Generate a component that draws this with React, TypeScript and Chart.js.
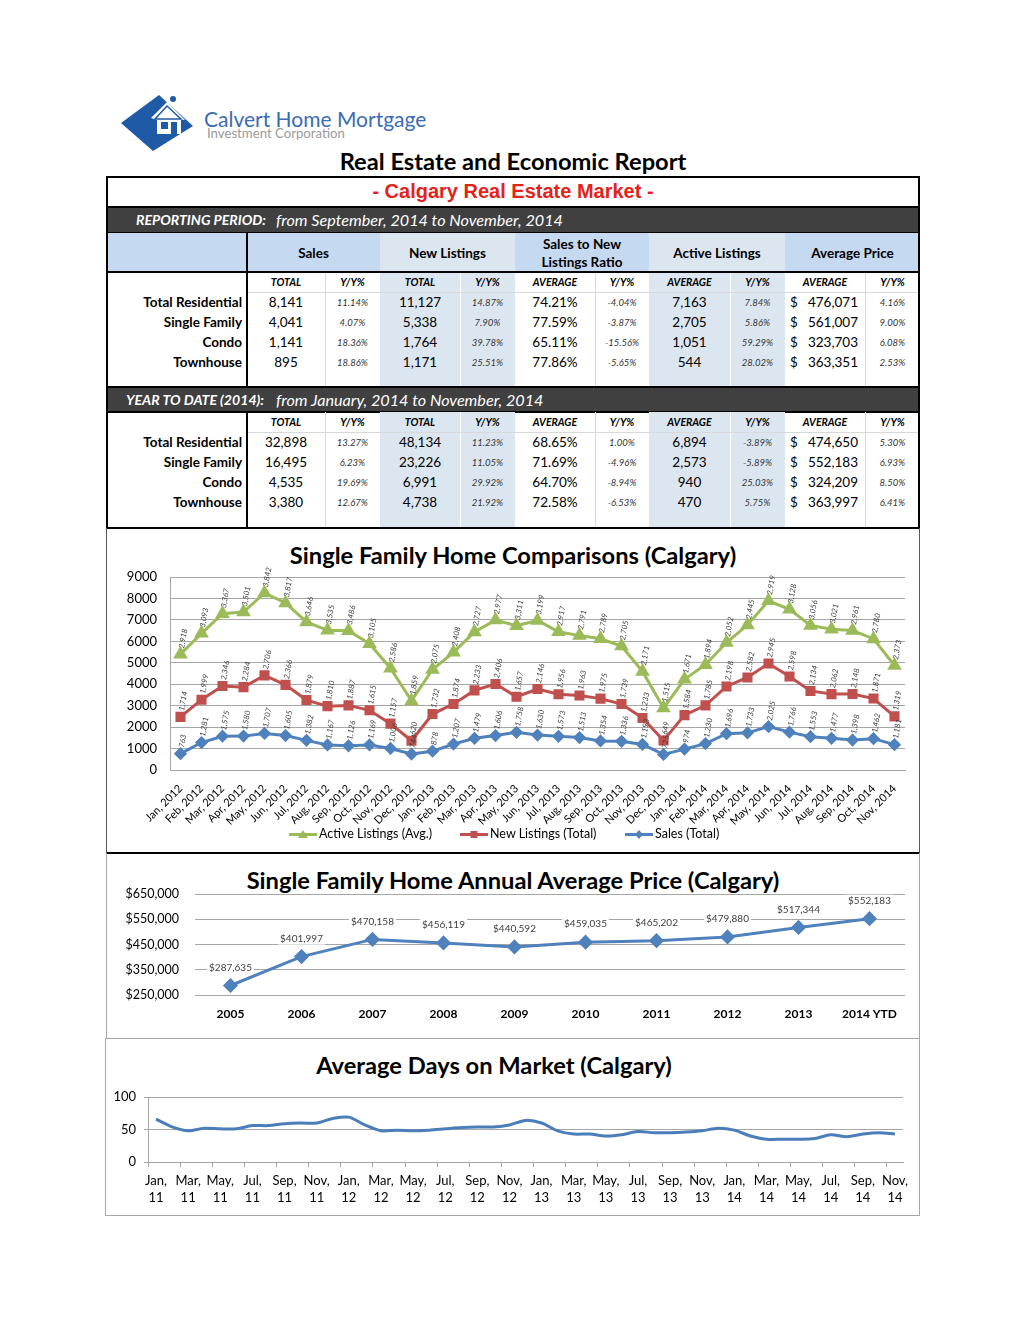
import React, { useEffect, useRef } from "react";
import { Chart, registerables } from "chart.js";
Chart.register(...registerables);

const FONT = "Lato, 'Noto Sans', sans-serif";
const BLUE = "#4f81bd";
const RED = "#c0504d";
const GREEN = "#9bbb59";
const GRID = "#a6a6a6";

// ---------- Chart 1: Single Family Home Comparisons ----------
const compMonths = [
  "Jan, 2012", "Feb, 2012", "Mar, 2012", "Apr, 2012", "May, 2012", "Jun, 2012",
  "Jul, 2012", "Aug, 2012", "Sep, 2012", "Oct, 2012", "Nov, 2012", "Dec, 2012",
  "Jan, 2013", "Feb, 2013", "Mar, 2013", "Apr, 2013", "May, 2013", "Jun, 2013",
  "Jul, 2013", "Aug, 2013", "Sep, 2013", "Oct, 2013", "Nov, 2013", "Dec, 2013",
  "Jan, 2014", "Feb, 2014", "Mar, 2014", "Apr, 2014", "May, 2014", "Jun, 2014",
  "Jul, 2014", "Aug, 2014", "Sep, 2014", "Oct, 2014", "Nov, 2014",
];
const activeListings = [
  2918, 3093, 3367, 3501, 3842, 3817, 3646, 3535, 3486, 3105, 2586, 1859,
  2075, 2408, 2727, 2977, 3311, 3199, 2917, 2791, 2789, 2705, 2171, 1515,
  1671, 1894, 2052, 2445, 2919, 3128, 3056, 3021, 2961, 2780, 2373,
];
const newListings = [
  1714, 1999, 2346, 2284, 2706, 2366, 1879, 1810, 1887, 1615, 1157, 620,
  1732, 1874, 2233, 2406, 1657, 2146, 1956, 1963, 1975, 1739, 1233, 649,
  1584, 1785, 2198, 2582, 2945, 2598, 2134, 2062, 2148, 1871, 1319,
];
const salesTotal = [
  763, 1281, 1575, 1580, 1707, 1605, 1382, 1167, 1126, 1169, 1006, 744,
  878, 1207, 1479, 1606, 1758, 1630, 1573, 1513, 1354, 1336, 1193, 725,
  974, 1230, 1696, 1733, 2025, 1766, 1553, 1477, 1398, 1462, 1181,
];

// ---------- Chart 2: Annual Average Price ----------
const years = ["2005", "2006", "2007", "2008", "2009", "2010", "2011", "2012", "2013", "2014 YTD"];
const avgPrice = [287635, 401997, 470158, 456119, 440592, 459035, 465202, 479880, 517344, 552183];

// ---------- Chart 3: Average Days on Market ----------
const domMonths = [
  "Jan, 11", "Feb, 11", "Mar, 11", "Apr, 11", "May, 11", "Jun, 11", "Jul, 11", "Aug, 11", "Sep, 11", "Oct, 11", "Nov, 11", "Dec, 11",
  "Jan, 12", "Feb, 12", "Mar, 12", "Apr, 12", "May, 12", "Jun, 12", "Jul, 12", "Aug, 12", "Sep, 12", "Oct, 12", "Nov, 12", "Dec, 12",
  "Jan, 13", "Feb, 13", "Mar, 13", "Apr, 13", "May, 13", "Jun, 13", "Jul, 13", "Aug, 13", "Sep, 13", "Oct, 13", "Nov, 13", "Dec, 13",
  "Jan, 14", "Feb, 14", "Mar, 14", "Apr, 14", "May, 14", "Jun, 14", "Jul, 14", "Aug, 14", "Sep, 14", "Oct, 14", "Nov, 14",
];
const daysOnMarket = [
  66, 54, 48, 52, 51, 51, 56, 56, 59, 60, 60, 67,
  69, 57, 48, 49, 48, 49, 51, 53, 54, 54, 57, 64,
  60, 48, 43, 43, 40, 42, 47, 45, 45, 46, 48, 52,
  49, 40, 35, 35, 35, 36, 42, 39, 43, 45, 43,
];

// ---------- Table ----------
const rowNames = ["Total Residential", "Single Family", "Condo", "Townhouse"];
const subHeaders = ["TOTAL", "Y/Y%", "TOTAL", "Y/Y%", "AVERAGE", "Y/Y%", "AVERAGE", "Y/Y%", "AVERAGE", "Y/Y%"];
const periodRows = [
  ["8,141", "11.14%", "11,127", "14.87%", "74.21%", "-4.04%", "7,163", "7.84%", "476,071", "4.16%"],
  ["4,041", "4.07%", "5,338", "7.90%", "77.59%", "-3.87%", "2,705", "5.86%", "561,007", "9.00%"],
  ["1,141", "18.36%", "1,764", "39.78%", "65.11%", "-15.56%", "1,051", "59.29%", "323,703", "6.08%"],
  ["895", "18.86%", "1,171", "25.51%", "77.86%", "-5.65%", "544", "28.02%", "363,351", "2.53%"],
];
const ytdRows = [
  ["32,898", "13.27%", "48,134", "11.23%", "68.65%", "1.00%", "6,894", "-3.89%", "474,650", "5.30%"],
  ["16,495", "6.23%", "23,226", "11.05%", "71.69%", "-4.96%", "2,573", "-5.89%", "552,183", "6.93%"],
  ["4,535", "19.69%", "6,991", "29.92%", "64.70%", "-8.94%", "940", "25.03%", "324,209", "8.50%"],
  ["3,380", "12.67%", "4,738", "21.92%", "72.58%", "-6.53%", "470", "5.75%", "363,997", "6.41%"],
];

const E = [106, 247, 325, 380, 460, 515, 595, 649, 730, 785, 865, 920];

function ChartCanvas({ left, top, width, height, make }: any) {
  const ref = useRef<HTMLCanvasElement>(null);
  useEffect(() => {
    const c = new Chart(ref.current as HTMLCanvasElement, make());
    return () => c.destroy();
  }, []);
  return (
    <div style={{ position: "absolute", left, top, width, height }}>
      <canvas ref={ref} width={width} height={height} style={{ width, height, display: "block" }} />
    </div>
  );
}

const stackLabels = {
  id: "stackLabels",
  afterDatasetsDraw(chart: any) {
    const ctx = chart.ctx;
    ctx.save();
    ctx.font = `italic 7.8px ${FONT}`;
    ctx.fillStyle = "#404040";
    ctx.textAlign = "left";
    ctx.textBaseline = "middle";
    chart.data.datasets.forEach((ds: any, di: number) => {
      const meta = chart.getDatasetMeta(di);
      meta.data.forEach((pt: any, i: number) => {
        const v = ds.data[i] as number;
        ctx.save();
        ctx.translate(pt.x + 1, pt.y - 6);
        ctx.rotate((-80 * Math.PI) / 180);
        ctx.fillText(v.toLocaleString("en-US"), 0, 0);
        ctx.restore();
      });
    });
    ctx.restore();
  },
};

const priceLabels = {
  id: "priceLabels",
  afterDatasetsDraw(chart: any) {
    const ctx = chart.ctx;
    ctx.save();
    ctx.font = `10px ${FONT}`;
    ctx.textAlign = "center";
    ctx.textBaseline = "middle";
    const ds = chart.data.datasets[0];
    const meta = chart.getDatasetMeta(0);
    meta.data.forEach((pt: any, i: number) => {
      const t = "$" + (ds.data[i] as number).toLocaleString("en-US");
      const w = ctx.measureText(t).width;
      const y = pt.y - 18;
      ctx.fillStyle = "#ffffff";
      ctx.fillRect(pt.x - w / 2 - 2, y - 6, w + 4, 12);
      ctx.fillStyle = "#404040";
      ctx.fillText(t, pt.x, y);
    });
    ctx.restore();
  },
};

const makeComp = () => ({
  type: "line",
  data: {
    labels: compMonths,
    datasets: [
      { label: "Sales (Total)", data: salesTotal, borderColor: BLUE, backgroundColor: BLUE, pointStyle: "rectRot", pointRadius: 4.5, borderWidth: 3, tension: 0 },
      { label: "New Listings (Total)", data: newListings, borderColor: RED, backgroundColor: RED, pointStyle: "rect", pointRadius: 5, borderWidth: 3, tension: 0 },
      { label: "Active Listings (Avg.)", data: activeListings, borderColor: GREEN, backgroundColor: GREEN, pointStyle: "triangle", pointRadius: 5.5, borderWidth: 3, tension: 0 },
    ],
  },
  options: {
    animation: false,
    responsive: false,
    layout: { padding: { top: 48, right: 14, left: 0, bottom: 0 } },
    plugins: { legend: { display: false }, tooltip: { enabled: false }, title: { display: false } },
    scales: {
      x: {
        offset: true,
        grid: { display: false },
        border: { display: true, color: GRID },
        ticks: { autoSkip: false, maxRotation: 45, minRotation: 45, font: { family: FONT, size: 11 }, color: "#000", padding: 4 },
        afterFit: (s: any) => { s.height = 59; },
      },
      y: {
        stacked: true,
        min: 0,
        max: 9000,
        ticks: { stepSize: 1000, callback: (v: any) => String(v), font: { family: FONT, size: 13 }, color: "#000", padding: 13 },
        grid: { color: GRID, drawTicks: false },
        border: { display: true, color: GRID },
        afterFit: (s: any) => { s.width = 63; },
      },
    },
  },
  plugins: [stackLabels],
});

const makePrice = () => ({
  type: "line",
  data: {
    labels: years,
    datasets: [{ data: avgPrice, borderColor: BLUE, backgroundColor: BLUE, borderWidth: 3, pointStyle: "rectRot", pointRadius: 5.5, tension: 0 }],
  },
  options: {
    animation: false,
    responsive: false,
    layout: { padding: { top: 40, right: 14, left: 0, bottom: 0 } },
    plugins: { legend: { display: false }, tooltip: { enabled: false } },
    scales: {
      x: {
        offset: true,
        grid: { display: false },
        border: { display: false },
        ticks: { font: { family: FONT, size: 12, weight: "bold" }, color: "#000", padding: 4 },
        afterFit: (s: any) => { s.height = 42; },
      },
      y: {
        min: 250000,
        max: 650000,
        ticks: { stepSize: 100000, callback: (v: any) => "$" + Number(v).toLocaleString("en-US"), font: { family: FONT, size: 12.5 }, color: "#000", padding: 16 },
        grid: { color: GRID, drawTicks: false },
        border: { display: false },
        afterFit: (s: any) => { s.width = 88; },
      },
    },
  },
  plugins: [priceLabels],
});

const makeDom = () => ({
  type: "line",
  data: {
    labels: domMonths,
    datasets: [{ data: daysOnMarket, borderColor: "#4a7ebb", borderWidth: 3, pointRadius: 0, tension: 0.3 }],
  },
  options: {
    animation: false,
    responsive: false,
    layout: { padding: { top: 58, right: 16, left: 0, bottom: 0 } },
    plugins: { legend: { display: false }, tooltip: { enabled: false } },
    scales: {
      x: {
        offset: true,
        grid: {
          display: true, drawOnChartArea: false, drawTicks: true, tickLength: 5, offset: true,
          color: (c: any) => (c.index % 2 === 0 ? GRID : "rgba(0,0,0,0)"),
        },
        border: { display: true, color: GRID },
        ticks: {
          autoSkip: false, maxRotation: 0, minRotation: 0,
          callback: (_v: any, i: number) => (i % 2 === 0 ? domMonths[i].split(" ") : ""),
          font: { family: FONT, size: 13, lineHeight: 1.3 }, color: "#000", padding: 5,
        },
        afterFit: (s: any) => { s.height = 52; },
      },
      y: {
        min: 0,
        max: 100,
        ticks: { stepSize: 50, font: { family: FONT, size: 13 }, color: "#000", padding: 8 },
        grid: { color: GRID, tickLength: 4 },
        border: { display: true, color: GRID },
        afterFit: (s: any) => { s.width = 42; },
      },
    },
  },
});

function Abs({ x, y, w, h, style, children }: any) {
  return <div style={{ position: "absolute", left: x, top: y, width: w, height: h, boxSizing: "border-box", ...style }}>{children}</div>;
}

function Cell({ x0, x1, y0, y1, style, children }: any) {
  return (
    <Abs x={x0} y={y0} w={x1 - x0} h={y1 - y0}
      style={{ display: "flex", alignItems: "center", justifyContent: "center", whiteSpace: "nowrap", ...style }}>
      {children}
    </Abs>
  );
}

function Title({ y, text, size, cx }: any) {
  const c = cx ?? 513;
  return (
    <Abs x={c - 407} y={y - 15} w={814} h={30}
      style={{ textAlign: "center", lineHeight: "30px", fontWeight: 700, fontSize: size, fontFamily: FONT, color: "#000", whiteSpace: "nowrap" }}>
      {text}
    </Abs>
  );
}

function Section({ top, rows, bar }: any) {
  const els: any[] = [];
  const end = top + 20 + 4 * 20 + 16;
  els.push(<Abs key="b1" x={380} y={top} w={135} h={end - top} style={{ background: "#dce6f1" }} />);
  els.push(<Abs key="b2" x={649} y={top} w={136} h={end - top} style={{ background: "#dce6f1" }} />);
  [325, 595, 865].forEach((x, i) => els.push(<Abs key={"s" + i} x={x} y={top} w={1} h={end - top} style={{ background: "#d9d9d9" }} />));
  [460, 730].forEach((x, i) => els.push(<Abs key={"w" + i} x={x} y={top} w={1} h={end - top} style={{ background: "#ffffff" }} />));
  els.push(<Abs key="hl" x={247} y={top + 20} w={673} h={1} style={{ background: "#d9d9d9" }} />);
  els.push(<Abs key="vl" x={246} y={top} w={2} h={end - top} style={{ background: "#000" }} />);
  subHeaders.forEach((t, j) =>
    els.push(
      <Cell key={"h" + j} x0={E[j + 1]} x1={E[j + 2]} y0={top} y1={top + 20}
        style={{ fontFamily: FONT, fontStyle: "italic", fontWeight: 700, fontSize: 10.5, color: "#000" }}>
        {t}
      </Cell>
    )
  );
  rows.forEach((r: string[], i: number) => {
    const y0 = top + 20 + i * 20;
    els.push(
      <Cell key={"n" + i} x0={106} x1={242} y0={y0} y1={y0 + 20}
        style={{ justifyContent: "flex-end", fontFamily: FONT, fontWeight: 700, fontSize: 13.5, color: "#000" }}>
        {rowNames[i]}
      </Cell>
    );
    r.forEach((v, j) => {
      const isPct = j % 2 === 1;
      if (j === 8) {
        els.push(
          <Cell key={"d" + i + "-" + j} x0={790} x1={858} y0={y0} y1={y0 + 20}
            style={{ justifyContent: "space-between", fontFamily: FONT, fontSize: 13.5, color: "#000" }}>
            <span>$</span><span>{v}</span>
          </Cell>
        );
      } else {
        els.push(
          <Cell key={"d" + i + "-" + j} x0={E[j + 1]} x1={E[j + 2]} y0={y0} y1={y0 + 20}
            style={{ fontFamily: FONT, fontSize: isPct ? 9.5 : 13.5, fontStyle: isPct ? "italic" : "normal", color: isPct ? "#333" : "#000" }}>
            {v}
          </Cell>
        );
      }
    });
  });
  return <>{els}</>;
}

function DarkBar({ y, h, label, text, labelX }: any) {
  return (
    <>
      <Abs x={106} y={y} w={814} h={h} style={{ background: "#404040", borderTop: "2px solid #000", borderBottom: "2px solid #000" }} />
      <Abs x={labelX} y={y} w={170} h={h} style={{ color: "#fff", fontFamily: FONT, fontStyle: "italic", fontWeight: 700, fontSize: 14.1, lineHeight: h + "px", whiteSpace: "nowrap" }}>{label}</Abs>
      <Abs x={276} y={y} w={400} h={h} style={{ color: "#fff", fontFamily: FONT, fontStyle: "italic", fontSize: 16.2, lineHeight: h + "px", whiteSpace: "nowrap" }}>{text}</Abs>
    </>
  );
}

function LegendItem({ x, color, marker, text }: any) {
  let m: any = null;
  if (marker === "triangle") m = <polygon points="14,1 19,9 9,9" fill={color} />;
  if (marker === "rect") m = <rect x={10.5} y={2} width={7} height={7} fill={color} />;
  if (marker === "diamond") m = <polygon points="14,1 18,5.5 14,10 10,5.5" fill={color} />;
  return (
    <>
      <svg style={{ position: "absolute", left: x - 30, top: 829 }} width={28} height={11}>
        <line x1={0} y1={5.5} x2={28} y2={5.5} stroke={color} strokeWidth={3} />
        {m}
      </svg>
      <Abs x={x} y={826} w={160} h={16} style={{ fontFamily: FONT, fontSize: 12.5, lineHeight: "16px", color: "#000", whiteSpace: "nowrap" }}>{text}</Abs>
    </>
  );
}

export default function App() {
  return (
    <div style={{ position: "absolute", left: 0, top: 0, width: 1024, height: 1326, background: "#fff", fontFamily: FONT, overflow: "hidden" }}>
      {/* Logo */}
      <svg style={{ position: "absolute", left: 115, top: 90 }} width={90} height={65}>
        <polygon points="6,33 44,5 78,36 38,61" fill="#1f5aa6" />
        <polygon points="36,28 52,12 70,30 66,30 66,44 42,44 42,30" fill="#ffffff" />
        <rect x={46} y={32} width={7} height={7} fill="#1f5aa6" />
        <rect x={56} y={32} width={6} height={12} fill="#1f5aa6" />
        <polygon points="40,29 52,16 66,29" fill="none" stroke="#1f5aa6" strokeWidth={1.5} />
        <circle cx={58} cy={9} r={3} fill="#1f5aa6" />
      </svg>
      <Abs x={204} y={106} w={260} h={26} style={{ fontFamily: FONT, fontSize: 21, color: "#3b6cb4", lineHeight: "26px", whiteSpace: "nowrap" }}>Calvert Home Mortgage</Abs>
      <Abs x={207} y={126} w={200} h={14} style={{ fontFamily: FONT, fontSize: 13.2, color: "#9a9a9a", lineHeight: "14px", whiteSpace: "nowrap" }}>Investment Corporation</Abs>

      <Abs x={106} y={146} w={814} h={30} style={{ textAlign: "center", lineHeight: "30px", fontWeight: 700, fontSize: 23.7, fontFamily: FONT, color: "#000", whiteSpace: "nowrap" }}>
        Real Estate and Economic Report
      </Abs>

      {/* Table */}
      <Cell x0={106} x1={920} y0={176} y1={207}
        style={{ fontFamily: "'Liberation Sans', Arial, sans-serif", fontWeight: 700, fontSize: 20, color: "#e2231a" }}>
        - Calgary Real Estate Market -
      </Cell>
      <DarkBar y={206} h={28} label="REPORTING PERIOD:" text="from September, 2014 to November, 2014" labelX={136} />
      <Abs x={106} y={233} w={274} h={39} style={{ background: "#c5d9f1" }} />
      <Abs x={380} y={233} w={135} h={39} style={{ background: "#dce6f1" }} />
      <Abs x={515} y={233} w={134} h={39} style={{ background: "#c5d9f1" }} />
      <Abs x={649} y={233} w={136} h={39} style={{ background: "#dce6f1" }} />
      <Abs x={785} y={233} w={135} h={39} style={{ background: "#c5d9f1" }} />
      {[["Sales", 247, 380], ["New Listings", 380, 515], ["Sales to New|Listings Ratio", 515, 649], ["Active Listings", 649, 785], ["Average Price", 785, 920]].map((g: any, i) => (
        <Cell key={"g" + i} x0={g[1]} x1={g[2]} y0={233} y1={272}
          style={{ flexDirection: "column", fontFamily: FONT, fontWeight: 700, fontSize: 13.5, lineHeight: "18px", color: "#000" }}>
          {g[0].split("|").map((t: string, k: number) => <div key={k}>{t}</div>)}
        </Cell>
      ))}
      <Section top={272} rows={periodRows} bar={206} />
      <Abs x={246} y={233} w={2} h={39} style={{ background: "#000" }} />
      <Abs x={106} y={271} w={814} h={2} style={{ background: "#000" }} />
      <DarkBar y={386} h={27} label="YEAR TO DATE (2014):" text="from January, 2014 to November, 2014" labelX={126} />
      <Section top={412} rows={ytdRows} bar={386} />
      <Abs x={106} y={176} w={814} h={353} style={{ border: "2px solid #000" }} />

      {/* Chart 1 */}
      <Abs x={106} y={528} w={814} h={326} style={{ borderLeft: "1px solid #595959", borderRight: "1px solid #595959", borderBottom: "2px solid #000" }} />
      <Title y={555} text="Single Family Home Comparisons (Calgary)" size={23.7} />
      <ChartCanvas left={107} top={529} width={812} height={300} make={makeComp} />
      <LegendItem x={319} color={GREEN} marker="triangle" text="Active Listings (Avg.)" />
      <LegendItem x={490} color={RED} marker="rect" text="New Listings (Total)" />
      <LegendItem x={655} color={BLUE} marker="diamond" text="Sales (Total)" />

      {/* Chart 2 */}
      <Abs x={106} y={853} w={814} h={186} style={{ borderLeft: "1px solid #a6a6a6", borderRight: "1px solid #a6a6a6", borderBottom: "1px solid #a6a6a6" }} />
      <Title y={880} text="Single Family Home Annual Average Price (Calgary)" size={23.7} />
      <ChartCanvas left={107} top={854} width={812} height={183} make={makePrice} />

      {/* Chart 3 */}
      <Abs x={105} y={1038} w={815} h={178} style={{ border: "1px solid #a6a6a6" }} />
      <Title y={1065} text="Average Days on Market (Calgary)" size={23.7} cx={494} />
      <ChartCanvas left={106} top={1039} width={813} height={175} make={makeDom} />
    </div>
  );
}
